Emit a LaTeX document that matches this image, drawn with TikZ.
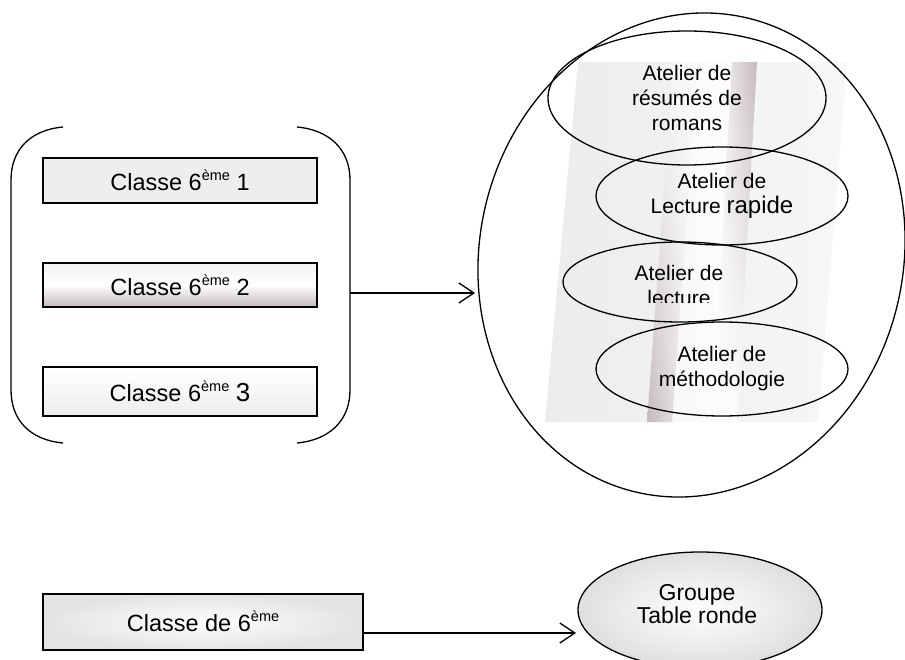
\documentclass[tikz,border=0pt]{standalone}
\usepackage{fontspec}
\setmainfont{Liberation Sans}
\usetikzlibrary{shapes.geometric,arrows.meta,fadings}
\definecolor{mauve}{HTML}{C4B9BF}
\definecolor{lightg}{HTML}{EEEEEE}
\definecolor{bgl}{HTML}{ECECEC}
\definecolor{bgr}{HTML}{F7F7F7}
\tikzfading[name=fadedown, top color=transparent!0, bottom color=transparent!100]
\tikzfading[name=fadeup, top color=transparent!100, bottom color=transparent!0]
\newcommand\supx[1]{\raisebox{0.42em}{\fontsize{14.5}{14.5}\selectfont #1}}
\begin{document}
\begin{tikzpicture}[x=1pt,y=-1pt,
  line width=1.3pt,
  every node/.style={font=\fontsize{21}{25}\selectfont, inner sep=0pt, align=center},
  classbox/.style={draw, line width=1.5pt, minimum width=274pt, minimum height=45pt, font=\fontsize{23.5}{27}\selectfont},
  oval/.style={draw, ellipse, line width=1.3pt},
  arr/.style={-{Straight Barb[length=15pt,width=20pt,line width=1.3pt]}}
]
\useasboundingbox (0,0) rectangle (905,660);

% tilted background with twisted cylinder band
\shade[left color=bgl, right color=bgr] (578,62) -- (847,62) -- (818,422) -- (545,422) -- cycle;
\shade[left color=gray!7, middle color=white, right color=white] (673,62) -- (757,62) -- (737,422) -- (647,422) -- cycle;
\shade[left color=white, right color=mauve, path fading=fadedown] (732,62) -- (757,62) -- (737,422) -- (712,422) -- cycle;
\shade[left color=mauve, right color=white, path fading=fadeup] (673,62) -- (698,62) -- (672,422) -- (647,422) -- cycle;

% big circle
\node[oval, minimum width=423.6pt, minimum height=487pt, rotate=-13] (big) at (691.5,255) {};

% left brackets
\draw (63,127) .. controls (30,130) and (11,150) .. (11,180) -- (11,390) .. controls (11,420) and (30,440) .. (63,443);
\draw (297,127) .. controls (330,130) and (350,150) .. (350,180) -- (350,390) .. controls (350,420) and (330,440) .. (297,443);

% class boxes
\node[classbox, fill=lightg, minimum height=45pt] (c1) at (180,180.5) {\raisebox{-5pt}{Classe 6\supx{ème} 1}};
\node[classbox, top color=white!80!mauve, bottom color=mauve, middle color=white, minimum height=44pt] (c2) at (180,285) {\raisebox{-3pt}{Classe 6\supx{ème} 2}};
\node[classbox, top color=white, bottom color=gray!14, minimum height=49pt] (c3) at (180,391.5) {\raisebox{-6pt}{Classe 6\supx{ème} {\fontsize{26}{27}\selectfont 3}}};

% arrow to the big circle
\coordinate (brR) at (350,293);
\coordinate (bigtip) at (475,293);
\draw[arr] (brR) -- (bigtip);

% workshops
\node[oval, minimum width=278pt, minimum height=134pt] (e1) at (687,98) {Atelier de\\résumés de\\romans};
\node[oval, minimum width=252pt, minimum height=98pt] (e2) at (722,196) {Atelier de\\Lecture {\fontsize{24}{25}\selectfont rapide}};
\node[oval, minimum width=234pt, minimum height=80pt] (e3) at (680,282) {};
\begin{scope}
  \clip (560,250) rectangle (800,303);
  \node (e3t) at (679,285) {Atelier de\\lecture};
\end{scope}
\node[oval, minimum width=252pt, minimum height=94pt] (e4) at (722,369) {Atelier de\\méthodologie};

% bottom row
\node[classbox, minimum width=320pt, minimum height=56pt, inner color=white, outer color=gray!22] (cb) at (203,622) {\raisebox{2pt}{Classe de 6\supx{ème}}};
\node[oval, minimum width=244pt, minimum height=116pt, inner color=white, outer color=gray!25] (grp) at (700,610) {};
\node[font=\fontsize{23}{23.5}\selectfont] (grpt) at (697,604) {Groupe\\Table ronde};
\coordinate (cbout) at (363,633);
\coordinate (grptip) at (576,633);
\draw[arr] (cbout) -- (grptip);
\end{tikzpicture}
\end{document}
